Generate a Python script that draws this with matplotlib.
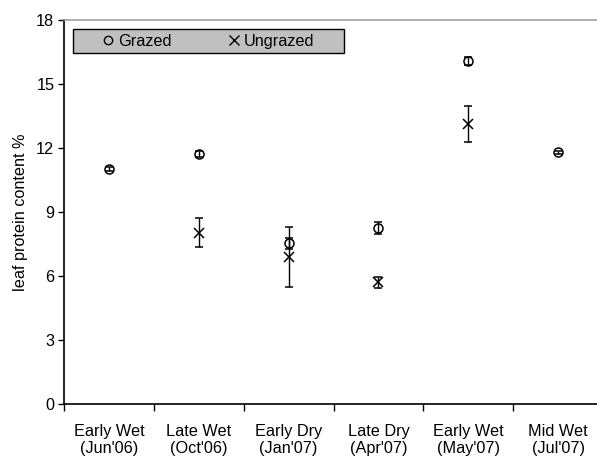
import matplotlib
matplotlib.use("Agg")
import matplotlib.pyplot as plt
from matplotlib.patches import Rectangle
from matplotlib.lines import Line2D

plt.rcParams['font.family'] = ['Liberation Sans', 'DejaVu Sans']

seasons = ["Early Wet\n(Jun'06)", "Late Wet\n(Oct'06)", "Early Dry\n(Jan'07)",
           "Late Dry\n(Apr'07)", "Early Wet\n(May'07)", "Mid Wet\n(Jul'07)"]
grazed = [11.02, 11.72, 7.54, 8.27, 16.08, 11.80]
grazed_err = [0.08, 0.15, 0.25, 0.27, 0.2, 0.08]
ungrazed_idx = [1, 2, 3, 4]
ungrazed = [8.04, 6.91, 5.71, 13.13]
ungrazed_err = [0.68, 1.4, 0.25, 0.84]
yticks = [0, 3, 6, 9, 12, 15, 18]

FS = 11.7
W, H = 597, 459
fig = plt.figure(figsize=(W / 100, H / 100), dpi=100)
left, right, top, bottom = 64, 603, 20, 404.3
ax = fig.add_axes([left / W, 1 - bottom / H, (right - left) / W, (bottom - top) / H])

xg = [i + 0.5 for i in range(len(seasons))]
xu = [i + 0.5 for i in ungrazed_idx]

ax.errorbar(xg, grazed, yerr=grazed_err, fmt='o', mfc='none', mec='black', mew=1.1,
            ms=6.5, ecolor='black', elinewidth=1, capsize=3.2, capthick=1, zorder=3)
ax.errorbar(xu, ungrazed, yerr=ungrazed_err, fmt='x', color='black', mew=1.1,
            ms=7, ecolor='black', elinewidth=1, capsize=3.2, capthick=1, zorder=3)

ax.set_xlim(0, len(seasons))
ax.set_ylim(0, 18)
ax.set_yticks(yticks)
ax.set_xticks(range(len(seasons) + 1))
ax.set_xticklabels([])
ax.set_xticks(xg, minor=True)
ax.set_xticklabels(seasons, minor=True, fontsize=FS, linespacing=1.2)
ax.tick_params(axis='x', which='minor', length=0, pad=14)
ax.tick_params(axis='x', which='major', direction='out', length=5, width=1)
ax.tick_params(axis='y', direction='out', length=4, width=1, labelsize=FS, pad=3)

ax.spines['right'].set_visible(False)
ax.spines['top'].set_color('#a0a0a0')
ax.spines['top'].set_linewidth(1.2)
for s in ('left', 'bottom'):
    ax.spines[s].set_linewidth(1.2)

ax.set_ylabel('leaf protein content %', fontsize=FS, labelpad=6)

# legend box
fig.patches.append(Rectangle((73 / W, 1 - 53 / H), (344 - 73) / W, 24 / H,
                             transform=fig.transFigure, facecolor='#c0c0c0',
                             edgecolor='black', linewidth=1, zorder=5))
handles = [Line2D([], [], marker='o', ls='none', mfc='none', mec='black', ms=6, mew=1),
           Line2D([], [], marker='x', ls='none', color='black', ms=7, mew=1)]
leg = fig.legend(handles, ['Grazed', 'Ungrazed'], ncol=2, frameon=False,
                 loc='center left', bbox_to_anchor=(102 / W, 1 - 41.5 / H),
                 fontsize=FS, handlelength=0.7, handletextpad=0.3,
                 columnspacing=3.45, borderpad=0, borderaxespad=0)
leg.set_zorder(6)

fig.savefig('out.png', dpi=100)
